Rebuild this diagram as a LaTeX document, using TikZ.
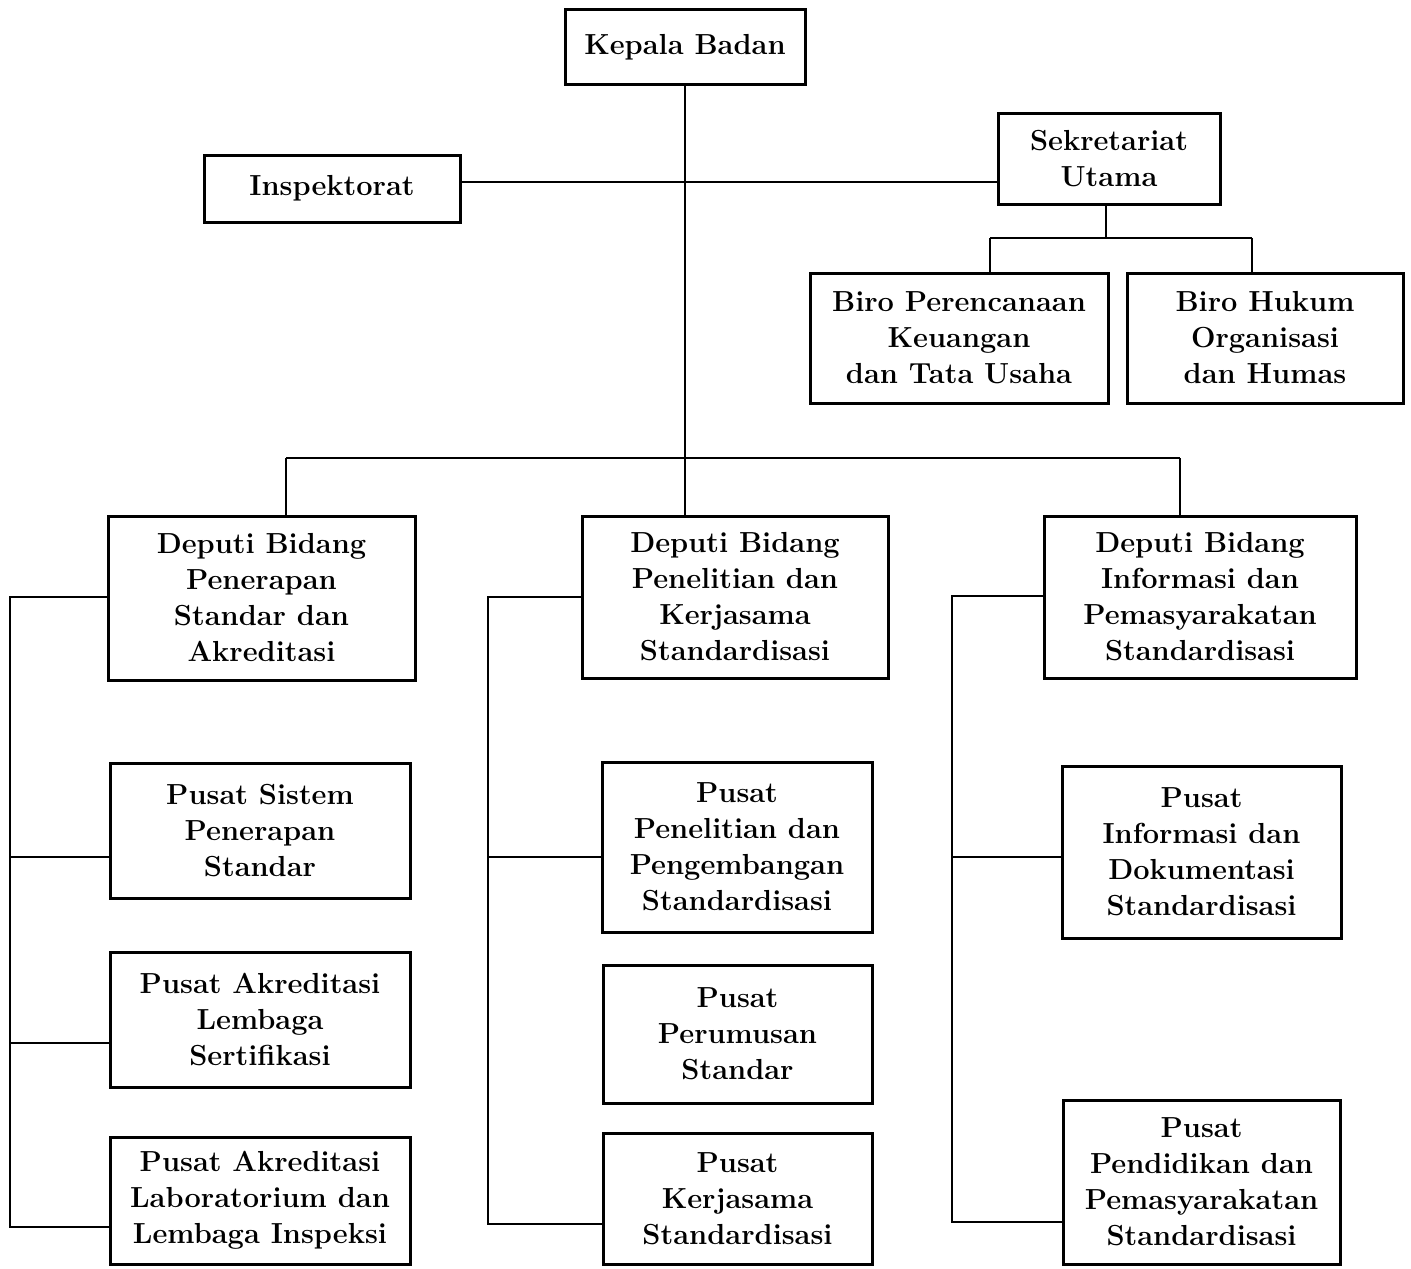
\documentclass[tikz,border=0pt]{standalone}
\usepackage{tikz}
\usetikzlibrary{positioning}

\begin{document}
\begin{tikzpicture}[
		x=0.5pt,
		y=-0.5pt,
		every node/.style={font=\bfseries\fontsize{14.5}{18}\selectfont},
		unit/.style={draw, line width=1.5pt, align=center, inner sep=0pt},
		link/.style={line width=1.3pt}
		]
		
		\useasboundingbox (0,0) rectangle (1411,1268);
		
		% Top level and staff units.
		\node[unit, minimum width=120pt, minimum height=37.5pt] (kepala) at (685,47.5) {Kepala Badan};
		\node[unit, minimum width=128pt, minimum height=33.5pt] (insp) at (332,188.5) {Inspektorat};
		\node[unit, minimum width=111pt, minimum height=45.5pt] (sekr) at (1109,158.5) {Sekretariat\\Utama};
		\node[unit, minimum width=149pt, minimum height=65pt] (biroA) at (959,338) {Biro Perencanaan\\Keuangan\\dan Tata Usaha};
		\node[unit, minimum width=138pt, minimum height=65pt] (biroB) at (1265,338) {Biro Hukum\\Organisasi\\dan Humas};
		
		% Deputies.
		\node[unit, minimum width=153.5pt, minimum height=82pt] (dep1) at (261.5,598) {Deputi Bidang\\Penerapan\\Standar dan\\Akreditasi};
		\node[unit, minimum width=153pt, minimum height=81pt] (dep2) at (735,597) {Deputi Bidang\\Penelitian dan\\Kerjasama\\Standardisasi};
		\node[unit, minimum width=156pt, minimum height=81pt] (dep3) at (1200,597) {Deputi Bidang\\Informasi dan\\Pemasyarakatan\\Standardisasi};
		
		% Centres under each deputy.
		\node[unit, minimum width=150pt, minimum height=67.5pt] (psis) at (260,830.5) {Pusat Sistem\\Penerapan\\Standar};
		\node[unit, minimum width=150pt, minimum height=67.5pt] (plem) at (260,1019.5) {Pusat Akreditasi\\Lembaga\\Sertifikasi};
		\node[unit, minimum width=150pt, minimum height=63.5pt] (plab) at (260,1200.5) {Pusat Akreditasi\\Laboratorium dan\\Lembaga Inspeksi};
		
		\node[unit, minimum width=135pt, minimum height=85pt] (ppen) at (737,847) {Pusat\\Penelitian dan\\Pengembangan\\Standardisasi};
		\node[unit, minimum width=134.5pt, minimum height=69pt] (pper) at (737.5,1034) {Pusat\\Perumusan\\Standar};
		\node[unit, minimum width=134.5pt, minimum height=65.5pt] (pker) at (737.5,1198.5) {Pusat\\Kerjasama\\Standardisasi};
		
		\node[unit, minimum width=139.5pt, minimum height=86pt] (pinf) at (1201.5,852) {Pusat\\Informasi dan\\Dokumentasi\\Standardisasi};
		\node[unit, minimum width=138.5pt, minimum height=82pt] (pdik) at (1201.5,1182) {Pusat\\Pendidikan dan\\Pemasyarakatan\\Standardisasi};
		
		% Bus points.
		\coordinate (staffbus) at (685,182);
		\coordinate (sekrbus) at (1106,238);
		\coordinate (depbus) at (685,458);
		
		% Head down to the deputies, staff line across.
		\draw[link] (kepala.south) -- (depbus);
		\draw[link] (insp.east |- staffbus) -- (sekr.west |- staffbus);
		
		% Secretariat to its bureaus.
		\draw[link] (sekr.south -| sekrbus) -- (sekrbus);
		\draw[link] (990,238) -- (1252,238);
		\draw[link] (990,238) -- (biroA.north -| 990,0);
		\draw[link] (1252,238) -- (biroB.north -| 1252,0);
		
		% Deputy bus.
		\draw[link] (286,458) -- (1180,458);
		\draw[link] (286,458) -- (dep1.north -| 286,0);
		\draw[link] (depbus) -- (dep2.north -| depbus);
		\draw[link] (1180,458) -- (dep3.north -| 1180,0);
		
		% Left-hand feeders of each deputy.
		\draw[link] (dep1.west |- 0,597) -- (10,597) -- (10,1227) -- (plab.west |- 0,1227);
		\draw[link] (10,857) -- (psis.west |- 0,857);
		\draw[link] (10,1043) -- (plem.west |- 0,1043);
		
		\draw[link] (dep2.west |- 0,597) -- (488,597) -- (488,1224) -- (pker.west |- 0,1224);
		\draw[link] (488,857) -- (ppen.west |- 0,857);
		
		\draw[link] (dep3.west |- 0,596) -- (952,596) -- (952,1222) -- (pdik.west |- 0,1222);
		\draw[link] (952,857) -- (pinf.west |- 0,857);
		
	\end{tikzpicture}
\end{document}
